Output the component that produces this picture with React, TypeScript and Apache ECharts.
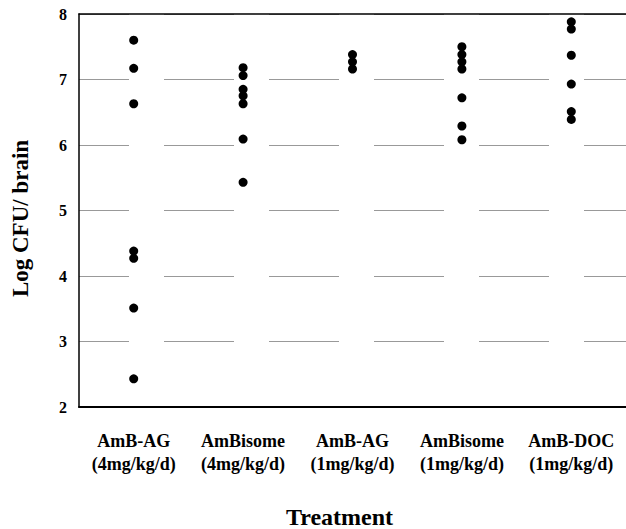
import React, { useEffect, useRef } from "react";
import * as echarts from "echarts";

const categories = [
  "AmB-AG\n(4mg/kg/d)",
  "AmBisome\n(4mg/kg/d)",
  "AmB-AG\n(1mg/kg/d)",
  "AmBisome\n(1mg/kg/d)",
  "AmB-DOC\n(1mg/kg/d)",
];
const ambAg4 = [7.6, 7.17, 6.63, 4.38, 4.27, 3.51, 2.43];
const ambisome4 = [7.18, 7.06, 6.85, 6.75, 6.63, 6.09, 5.43];
const ambAg1 = [7.38, 7.27, 7.16];
const ambisome1 = [7.5, 7.38, 7.27, 7.16, 6.72, 6.29, 6.08];
const ambDoc1 = [7.88, 7.77, 7.37, 6.93, 6.51, 6.39];
const groups = [ambAg4, ambisome4, ambAg1, ambisome1, ambDoc1];
const yTicks = [2, 3, 4, 5, 6, 7, 8];

const FONT = "'Liberation Serif', 'DejaVu Serif', serif";

export default function App() {
  const ref = useRef<HTMLDivElement>(null);
  useEffect(() => {
    document.body.style.margin = "0";
    const chart = echarts.init(ref.current!, null, { renderer: "svg" });
    const data: [number, number][] = [];
    groups.forEach((g, i) => g.forEach((v) => data.push([i, v])));
    chart.setOption({
      animation: false,
      backgroundColor: "#ffffff",
      grid: { left: 79, right: 0, top: 14, bottom: 122, outerBoundsMode: "none", containLabel: false },
      xAxis: [
        {
          type: "category",
          data: categories,
          position: "bottom",
          axisLine: { show: true, lineStyle: { color: "#000", width: 2 } },
          axisTick: { show: false },
          axisLabel: {
            color: "#000",
            fontFamily: FONT,
            fontWeight: "bold",
            fontSize: 18,
            lineHeight: 23,
            margin: 22,
            interval: 0,
          },
          name: "Treatment",
          nameLocation: "middle",
          nameGap: 98,
          nameTextStyle: {
            color: "#000",
            fontFamily: FONT,
            fontWeight: "bold",
            fontSize: 24,
            padding: [0, 26, 0, 0],
          },
        },
        {
          type: "category",
          data: categories,
          position: "top",
          axisLine: { show: true, lineStyle: { color: "#000", width: 1.5 } },
          axisTick: { show: false },
          axisLabel: { show: false },
        },
      ],
      yAxis: {
        type: "value",
        min: yTicks[0],
        max: yTicks[yTicks.length - 1],
        interval: 1,
        axisLine: { show: true, lineStyle: { color: "#000", width: 1.5 } },
        axisTick: { show: false },
        axisLabel: {
          color: "#000",
          fontFamily: FONT,
          fontWeight: "bold",
          fontSize: 16,
          margin: 12,
          showMinLabel: true,
          showMaxLabel: true,
        },
        splitLine: {
          show: true,
          lineStyle: { color: "#999999", width: 1, type: [70, 35], dashOffset: 20 },
        },
        name: "Log CFU/ brain",
        nameLocation: "middle",
        nameGap: 47,
        nameTextStyle: {
          color: "#000",
          fontFamily: FONT,
          fontWeight: "bold",
          fontSize: 23,
          padding: [0, 16, 0, 0],
        },
      },
      series: [
        {
          type: "scatter",
          data,
          symbol: "circle",
          symbolSize: 9,
          itemStyle: { color: "#000", opacity: 1 },
        },
      ],
    });
    return () => chart.dispose();
  }, []);
  return (
    <div
      ref={ref}
      style={{ position: "fixed", left: 0, top: 0, width: 626, height: 529 }}
    />
  );
}
